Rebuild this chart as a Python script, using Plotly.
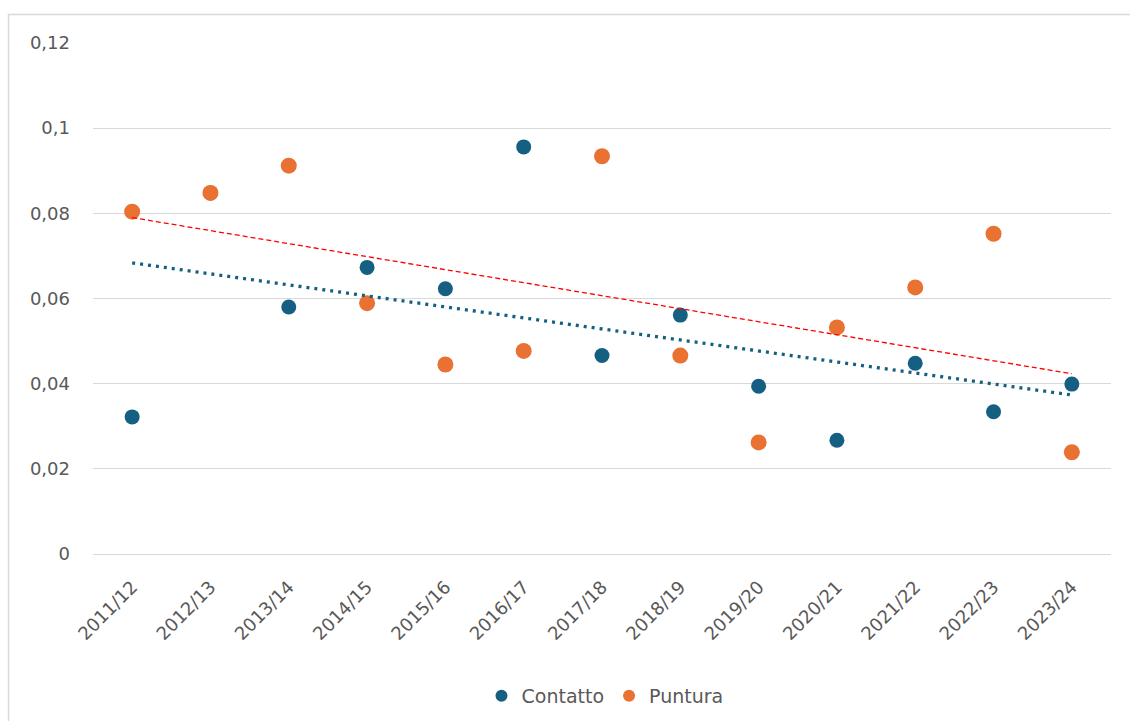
import numpy as np
import plotly.graph_objects as go

# Seasons on the category axis
seasons = ["2011/12", "2012/13", "2013/14", "2014/15", "2015/16", "2016/17", "2017/18",
           "2018/19", "2019/20", "2020/21", "2021/22", "2022/23", "2023/24"]

# Rates per season
contatto = [0.0322, 0.0848, 0.0580, 0.0673, 0.0623, 0.0956, 0.0466,
            0.0561, 0.0394, 0.0267, 0.0448, 0.0334, 0.0399]
puntura = [0.0804, 0.0848, 0.0912, 0.0589, 0.0445, 0.0477, 0.0934,
           0.0466, 0.0262, 0.0532, 0.0626, 0.0752, 0.0239]

y_ticks = [0, 0.02, 0.04, 0.06, 0.08, 0.10, 0.12]
y_tick_text = ["0", "0,02", "0,04", "0,06", "0,08", "0,1", "0,12"]

BLUE = "#156082"
ORANGE = "#E97132"
GRID = "#d9d9d9"
TEXT = "#595959"
FONT = "DejaVu Sans, Open Sans, sans-serif"


def linear_trend(values):
    idx = np.arange(1, len(values) + 1)
    slope, intercept = np.polyfit(idx, values, 1)
    return slope * idx + intercept


fig = go.Figure()

fig.add_trace(go.Scatter(
    x=seasons, y=contatto, mode="markers", name="Contatto",
    marker=dict(color=BLUE, size=15, line=dict(width=0)),
))
fig.add_trace(go.Scatter(
    x=seasons, y=puntura, mode="markers", name="Puntura",
    marker=dict(color=ORANGE, size=16, line=dict(width=0)),
))

# Linear trend lines for each series
fig.add_trace(go.Scatter(
    x=seasons, y=linear_trend(contatto), mode="lines", showlegend=False,
    line=dict(color=BLUE, width=3.3, dash="3px,5px"), hoverinfo="skip",
))
fig.add_trace(go.Scatter(
    x=seasons, y=linear_trend(puntura), mode="lines", showlegend=False,
    line=dict(color="#FF0000", width=1.3, dash="5px,3px"), hoverinfo="skip",
))

L, R, T, B = 93, 19, 43, 167
W, H = 1130, 721
pw = W - L - R
ph = H - T - B

# Chart frame (light grey border)
fig.add_shape(
    type="rect", xref="paper", yref="paper", layer="below",
    x0=(8.5 - L) / pw, x1=(W + 10 - L) / pw,
    y0=(H - B - (H + 10)) / ph, y1=(H - B - 14.5) / ph,
    line=dict(color=GRID, width=1.5), fillcolor="rgba(0,0,0,0)",
)

fig.update_layout(
    width=W, height=H,
    margin=dict(l=L, r=R, t=T, b=B, autoexpand=False),
    paper_bgcolor="white", plot_bgcolor="white",
    font=dict(family=FONT, color=TEXT, size=18),
    showlegend=True,
    legend=dict(
        orientation="h", x=(605 - L) / pw, xanchor="center",
        y=(H - B - 696) / ph, yanchor="middle",
        font=dict(size=19, color=TEXT), itemsizing="constant",
        traceorder="normal", itemwidth=30,
    ),
    xaxis=dict(
        type="category", range=[-0.5, 12.5], tickangle=-45,
        showgrid=False, showline=False, automargin=False,
        ticks="", ticklabelstandoff=18, tickfont=dict(size=18, color=TEXT),
    ),
    yaxis=dict(
        range=[0, 0.12], tickvals=y_ticks, ticktext=y_tick_text,
        showgrid=True, gridcolor=GRID, gridwidth=1, automargin=False,
        zeroline=True, zerolinecolor=GRID, zerolinewidth=1,
        showline=False, ticks="", ticklabelstandoff=22,
        tickfont=dict(size=18, color=TEXT),
    ),
)

fig.write_html("out.html")
